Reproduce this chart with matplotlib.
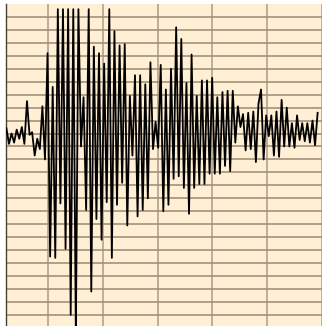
import numpy as np
import matplotlib
matplotlib.use("Agg")
import matplotlib.pyplot as plt

# Seismogram trace: amplitude per sample (grid division = 10 units)
amplitude = [
    4, -8, 0, -7, 3, -4, 5, -8, 25, -1,
    1, -17, -4, -12, 21, -20, 62, -95, 36, -96,
    96, -54, 96, -89, 96, -140, 96, -155, 96, -10,
    28, -59, 96, -122, 67, -66, 62, -82, 54, -53,
    96, -96, 79, -55, 68, -38, 69, -71, 29, -17,
    45, -64, 45, -59, 38, -50, 55, -12, 9, -11,
    53, -60, 34, -55, 50, -35, 82, -33, 73, -42,
    39, -62, 61, -42, 29, -39, 41, -39, 41, -31,
    43, -31, 28, -31, 32, -25, 33, -29, 33, -7,
    21, 5, 15, -13, 16, -12, 17, -22, 23, 34,
    -20, 14, -2, 14, -17, 17, -18, 26, -10, 20,
    -10, 8, -11, 14, -5, 8, -6, 8, -7, 10,
    -9, 16,
]
samples = np.arange(len(amplitude))

# chart paper grid
time_grid = np.arange(16.2, 130, 21.3)
amp_grid = np.arange(-140, 100, 10)

fig = plt.figure(figsize=(3.22, 3.26), dpi=100)
ax = fig.add_axes([5.7 / 322, 0, 1 - 5.7 / 322, 1 - 4 / 326])
ax.set_facecolor("#ffefd5")

ax.plot(samples, amplitude, color="black", linewidth=1.3, zorder=3)

ax.set_xlim(-0.27, 120.9)
ax.set_ylim(-148.6, 100)
ax.set_xticks(time_grid)
ax.set_yticks(amp_grid)
ax.tick_params(length=0, labelbottom=False, labelleft=False)

for y in amp_grid:
    ax.axhline(y, color="#8a7a62", linewidth=1.2, alpha=0.8, zorder=2)
for x in time_grid:
    ax.axvline(x, color="#9c8f7c", linewidth=1.2, alpha=0.8, zorder=2)

for side in ["top", "right", "bottom"]:
    ax.spines[side].set_visible(False)
ax.spines["left"].set_color("#4a4035")
ax.spines["left"].set_linewidth(1.0)

fig.savefig("out.png", dpi=100)
